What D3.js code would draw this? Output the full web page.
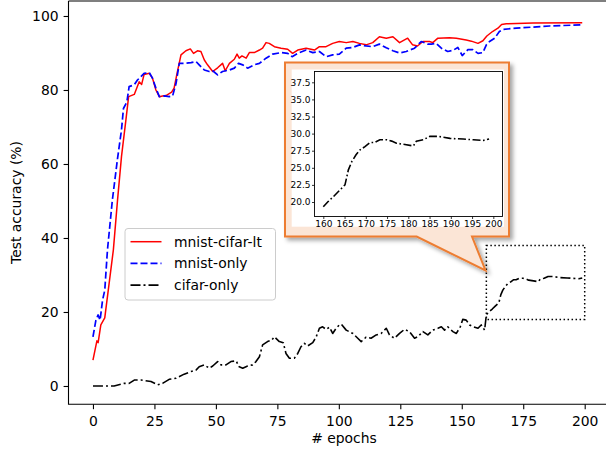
<!DOCTYPE html>
<html>
<head>
<meta charset="utf-8">
<script src="https://cdn.jsdelivr.net/npm/d3@7"></script>
<style>
  body { margin: 0; background: #fff; }
  svg { display: block; font-family: "DejaVu Sans", sans-serif; }
</style>
</head>
<body>
<div id="chart"></div>
<script>
// valores
var redEpochs = [0,1.6,2.1,3.2,4.8,8.3,10,11.6,13.4,14.5,16.8,18.8,19.8,20.8,22.9,24.2,25.6,27,28.3,29.7,32,33,34.2,35.8,37.8,39.6,40.9,42.5,43.9,45.3,46.6,48.7,50.7,52.7,53.8,55.5,57.5,58.6,59.5,60.6,62.3,63.6,65.6,67.7,69,70.4,71.7,73.8,76.5,79.2,81.2,83.3,86.7,90.1,92.1,94.8,97.5,100.2,103,105.7,108.4,111.1,113.8,116.5,119.3,122,124.7,128,130,132,134.2,136.9,138.2,140.3,145,147.8,151.8,153.9,156.6,158.6,160.2,162.5,164.7,166.2,168.1,179,199]
var redAcc = [7,12.2,11.7,16.5,18.4,36.8,50.3,62,71.9,78.2,78.8,82.2,81.5,84.2,84.5,83.2,80,78.2,78.4,78.5,79.4,80.5,84.5,89.5,90.6,91.1,89.9,90.6,90.4,88.1,86.8,85,86,87.2,85.2,87.2,88.3,89.7,88.6,89.2,88.6,90.1,90.1,90.8,91.3,92.8,92.6,91.7,91.3,91,89.9,90.8,91.3,90.8,91.7,91.7,92.6,93.1,92.8,93.1,92.6,92.2,92.8,94.4,94,94.4,92.8,94,92.2,91.9,93.1,93.1,92.8,94,94.1,94,93.5,93.2,92.6,93.3,94.6,95.8,96.7,97.7,97.9,98.1,98.2]

var blueEpochs = [0,1.2,2.1,2.9,3.9,4.8,5.9,7.9,10,11.6,12.4,13.8,14.7,16.8,18.1,19.5,20.8,22.9,24.2,25.6,27,29,31,32.4,33.8,35.1,37.1,39.9,41.9,43.2,45.3,47.3,48.7,50.7,52.7,55.5,57.5,59.2,60.9,62.9,65.6,67.7,70.4,73.1,76.5,79.2,81,83.3,86.7,89.4,92.1,94.8,97.5,100.2,103,105.7,108.4,111.1,113.8,116.5,119.3,122,124.7,127.4,130.8,133.5,136.2,137.6,139.6,141.7,144.3,146.4,148.4,150.2,152.5,154.5,156.6,158.6,160,161.3,163.4,165.3,166.9,172.2,185.7,199]
var blueAcc = [13.3,17.8,19.2,17.8,23.2,25.9,36.8,50.3,61.5,69.2,75,76.8,80.9,81.4,82.7,83.6,84.5,84.7,83.2,80.5,78.2,78.4,78.2,78.4,81.8,87.2,87.2,87.4,87.7,86.8,85.4,85,85.2,84.1,85,85.4,85.9,87.2,86.8,85.9,86.8,87.2,88.6,89.7,90.1,89.9,89,89.9,90.8,90.1,90.4,89,89.5,89.7,91.3,91.5,92.2,91.9,91.7,92.4,91.4,90.6,90,90.4,91.3,93.1,92.4,92.4,92.6,91.3,90.4,90.7,91.5,89.3,90.9,90.9,89.9,90.1,92.2,93.1,94,95.8,96.4,96.7,97.3,97.6]

var blackEpochs = [0,8.6,12.7,14.7,16.8,19.5,23.6,26.3,28.3,31,33.8,37.1,39.9,41.9,43.2,45.3,47.3,48.7,50.7,52.1,54.1,56.1,58.2,59.5,60.9,62.9,64.9,66.3,67.7,69,71,72.7,73.8,75.8,77.4,78.5,79.9,81.9,83.3,84.6,86,87.3,89.4,90.8,92.1,93.4,94.8,96.2,97.5,98.9,100.2,101,103,105.7,107.7,109.1,111.1,113.1,115.2,117.2,119.3,120.6,122.6,124.7,126.7,128.7,130.8,132.1,134.2,136.2,138.2,140.3,141.7,143,144.3,146.4,147.8,149.4,150.4,151.8,153.2,154.8,156.6,157.9,159.3,160,161.2,162.4,163.5,165.1,165.9,166.7,167.7,168.6,169.8,171,172.1,173.3,174.9,176.1,177.2,179.2,181.2,181.9,183.5,185.1,187,189.8,192.9,195.3,197.6,199]
var blackAcc = [0,0,0.7,0.7,1.6,1.6,1.2,0.3,0.7,1.8,2.1,3.2,3.9,4.3,5.2,5.7,4.8,5.4,6.6,5.7,5.7,6.6,6.8,5.2,4.8,5.4,5.7,6.6,7.9,11.1,12,12.4,13.3,12,11.7,8.8,7.5,7.5,8.8,10.6,11.5,10.8,11.7,13.3,15.6,16,15.3,15.9,14.2,15.6,16.5,16.7,15.1,14.2,12.9,12,13.2,12.9,13.8,14.2,15.6,13.8,12.9,14.2,15.3,14.7,12.9,13.3,14.7,13.8,15.1,15.6,16,15.1,16,14.7,14.2,16,18,17.8,16.5,16,15.6,16.5,15.1,19.3,20.1,20.8,21.5,22.5,24.7,25.9,26.9,27.6,28.1,28.7,28.7,29.1,29.1,28.9,28.6,28.4,28.2,28.9,29.1,29.6,29.6,29.3,29.2,29.1,29,29.2]

var seriesNames = ['mnist-cifar-lt', 'mnist-only', 'cifar-only']
var xTicks = [0, 25, 50, 75, 100, 125, 150, 175, 200]
var yTicks = [0, 20, 40, 60, 80, 100]
var insetXTicks = [160, 165, 170, 175, 180, 185, 190, 195, 200]
var insetYTicks = [20, 22.5, 25, 27.5, 30, 32.5, 35, 37.5]
var zoomBox = [160, 200, 18, 38]   // x0, x1, y0, y1

var W = 606, H = 452
var font = 13.9

var svg = d3.select('#chart').append('svg')
	.attr('width', W)
	.attr('height', H)

var defs = svg.append('defs')
var sh = defs.append('filter').attr('id', 'shadow')
	.attr('x', '-10%').attr('y', '-10%').attr('width', '130%').attr('height', '130%')
sh.append('feDropShadow')
	.attr('dx', 3).attr('dy', 3).attr('stdDeviation', 2)
	.attr('flood-color', '#000').attr('flood-opacity', 0.35)

// escalas principales
var x = d3.scaleLinear().domain([-9.95, 208.95]).range([68.5, 606.7])
var y = d3.scaleLinear().domain([-4.95, 104.05]).range([404.3, 1])

function pts(ex, vs) { return ex.map(function (e, i) { return [e, vs[i]] }) }

var series = [
	{ name: seriesNames[0], data: pts(redEpochs, redAcc), color: '#ff0000', width: 1.5, dash: null },
	{ name: seriesNames[1], data: pts(blueEpochs, blueAcc), color: '#0000ff', width: 1.7, dash: '7,3' },
	{ name: seriesNames[2], data: pts(blackEpochs, blackAcc), color: '#000000', width: 1.6, dash: '10,3,2,3' }
]

var line = d3.line()
	.x(function (d) { return x(d[0]) })
	.y(function (d) { return y(d[1]) })

// ejes
var gx = svg.append('g').attr('transform', 'translate(0,' + y.range()[0] + ')')
	.call(d3.axisBottom(x).tickValues(xTicks).tickSize(4.9).tickPadding(7).tickSizeOuter(0))
var gy = svg.append('g').attr('transform', 'translate(' + x.range()[0] + ',0)')
	.call(d3.axisLeft(y).tickValues(yTicks).tickSize(4.9).tickPadding(5).tickSizeOuter(0))

;[gx, gy].forEach(function (g) {
	g.select('.domain').remove()
	g.attr('font-family', null).attr('font-size', font)
	g.selectAll('line').attr('stroke', '#000').attr('stroke-width', 1.1)
	g.selectAll('text').attr('fill', '#000')
})

svg.append('text')
	.attr('x', 344).attr('y', 443)
	.attr('text-anchor', 'middle')
	.attr('font-size', font)
	.text('# epochs')

svg.append('text')
	.attr('transform', 'translate(21,202.5) rotate(-90)')
	.attr('text-anchor', 'middle')
	.attr('font-size', font)
	.text('Test accuracy (%)')

// lineas
series.forEach(function (s) {
	svg.append('path')
		.datum(s.data)
		.attr('d', line)
		.attr('fill', 'none')
		.attr('stroke', s.color)
		.attr('stroke-width', s.width)
		.attr('stroke-dasharray', s.dash)
		.attr('stroke-linejoin', 'round')
})

// spines
svg.append('path')
	.attr('d', 'M' + x.range()[0] + ',' + y.range()[1] + 'V' + y.range()[0] + 'H' + x.range()[1])
	.attr('fill', 'none')
	.attr('stroke', '#000')
	.attr('stroke-width', 1.1)
svg.append('line')
	.attr('x1', x.range()[0]).attr('x2', x.range()[1])
	.attr('y1', y.range()[1]).attr('y2', y.range()[1])
	.attr('stroke', '#000').attr('stroke-width', 1.1)

// caja punteada
svg.append('rect')
	.attr('x', x(zoomBox[0])).attr('y', y(zoomBox[3]))
	.attr('width', x(zoomBox[1]) - x(zoomBox[0]))
	.attr('height', y(zoomBox[2]) - y(zoomBox[3]))
	.attr('fill', 'none')
	.attr('stroke', '#000')
	.attr('stroke-width', 1.5)
	.attr('stroke-dasharray', '1.5,2.5')

// leyenda
var legend = svg.append('g')
legend.append('rect')
	.attr('x', 125).attr('y', 228.5).attr('width', 150.5).attr('height', 71.5)
	.attr('rx', 3)
	.attr('fill', '#fff').attr('fill-opacity', 0.8)
	.attr('stroke', '#cccccc')
series.forEach(function (s, i) {
	var ly = 241.7 + i * 21.7
	legend.append('line')
		.attr('x1', 130.5).attr('x2', 161.5)
		.attr('y1', ly).attr('y2', ly)
		.attr('stroke', s.color)
		.attr('stroke-width', s.width)
		.attr('stroke-dasharray', s.dash)
	legend.append('text')
		.attr('x', 174).attr('y', ly + 5)
		.attr('font-size', font)
		.text(s.name)
})

// llamada con el zoom
var callout = svg.append('g')
callout.append('path')
	.attr('d', 'M285,62.5H509V236.5H472L485.5,270.5L416.7,236.5H285Z')
	.attr('fill', '#fbe5d6')
	.attr('stroke', '#ed7d31')
	.attr('stroke-width', 2)
	.attr('stroke-linejoin', 'miter')
	.attr('filter', 'url(#shadow)')
callout.append('rect')
	.attr('x', 291.7).attr('y', 69.5).attr('width', 212.3).attr('height', 157.2)
	.attr('fill', '#fff')

var ix = d3.scaleLinear().domain([157.93, 202.16]).range([314.5, 502.5])
var iy = d3.scaleLinear().domain([17.88, 39.08]).range([216.5, 71.5])

defs.append('clipPath').attr('id', 'insetclip')
	.append('rect')
	.attr('x', ix.range()[0]).attr('y', iy.range()[1])
	.attr('width', ix.range()[1] - ix.range()[0])
	.attr('height', iy.range()[0] - iy.range()[1])

var iline = d3.line()
	.x(function (d) { return ix(d[0]) })
	.y(function (d) { return iy(d[1]) })

callout.append('path')
	.datum(series[2].data.filter(function (d) { return d[0] >= 160 }))
	.attr('d', iline)
	.attr('clip-path', 'url(#insetclip)')
	.attr('fill', 'none')
	.attr('stroke', '#000')
	.attr('stroke-width', 1.6)
	.attr('stroke-dasharray', '8,2.5,1.6,2.5')

var igx = callout.append('g').attr('transform', 'translate(0,' + iy.range()[0] + ')')
	.call(d3.axisBottom(ix).tickValues(insetXTicks).tickSize(2.5).tickPadding(1.5).tickSizeOuter(0))
var igy = callout.append('g').attr('transform', 'translate(' + ix.range()[0] + ',0)')
	.call(d3.axisLeft(iy).tickValues(insetYTicks).tickSize(2.5).tickPadding(1.5).tickSizeOuter(0).tickFormat(d3.format('.1f')))

;[igx, igy].forEach(function (g) {
	g.select('.domain').remove()
	g.attr('font-family', null).attr('font-size', 9)
	g.selectAll('line').attr('stroke', '#000').attr('stroke-width', 0.8)
	g.selectAll('text').attr('fill', '#000')
})

callout.append('rect')
	.attr('x', ix.range()[0]).attr('y', iy.range()[1])
	.attr('width', ix.range()[1] - ix.range()[0])
	.attr('height', iy.range()[0] - iy.range()[1])
	.attr('fill', 'none')
	.attr('stroke', '#000')
	.attr('stroke-width', 0.9)
</script>
</body>
</html>
